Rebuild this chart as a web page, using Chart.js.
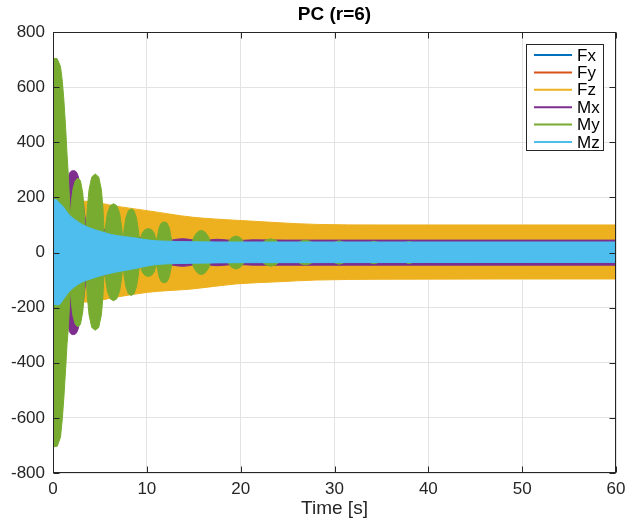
<!DOCTYPE html>
<html>
<head>
<meta charset="utf-8">
<script src="https://cdn.jsdelivr.net/npm/chart.js@4.4.1/dist/chart.umd.min.js"></script>
<style>
  html, body { margin: 0; padding: 0; background: #fff; }
  #wrap { width: 627px; height: 522px; }
</style>
</head>
<body>
<div id="wrap"><canvas id="pc_chart" width="627" height="522"></canvas></div>
<script>
// envelopes of the force / moment signals (upper and lower edge)
const fxT  = [0, 5, 15, 60];
const fxHi = [20, 15, 12, 12];
const fxLo = [-20, -15, -12, -12];

const fyT  = [0, 5, 15, 60];
const fyHi = [25, 18, 15, 15];
const fyLo = [-25, -18, -15, -15];

const fzT  = [0, 1.5, 3.5, 6.7, 10.2, 14.9, 19.5, 24.1, 28, 35, 60];
const fzHi = [120, 175, 186, 168, 151, 128, 117, 108, 102, 100, 100];
const fzLo = [-120, -175, -180, -162, -144, -132, -114, -106, -100, -97, -96];

const mxT  = [0, 1.0, 1.5, 1.65, 1.8, 2.2, 2.6, 2.9, 3.2, 3.45, 3.7, 4.6, 5.6, 6.3, 7.5, 9.5, 11.5, 13.8, 15.8, 17.5, 19.5, 21.3, 25, 60];
const mxHi = [100, 150, 200, 270, 290, 297, 285, 245, 185, 120, 80, 70, 85, 65, 45, 55, 40, 50, 42, 48, 43, 46, 45, 45];
const mxLo = [-100, -150, -200, -270, -290, -298, -285, -245, -185, -120, -80, -70, -85, -65, -45, -55, -40, -50, -42, -48, -43, -46, -46, -46];

const myT  = [0, 0.45, 0.8, 1.0, 1.17, 1.35, 1.5, 1.6, 1.75, 1.85,
              1.97, 2.13, 2.37, 2.65, 2.93, 3.17, 3.33, 3.5,
              3.65, 3.84, 4.13, 4.5, 4.87, 5.16, 5.33, 5.45,
              5.6, 5.8, 6.1, 6.45, 6.8, 7.1, 7.3, 7.45,
              7.59, 7.77, 8.04, 8.35, 8.62, 8.89, 9.07, 9.25,
              9.5, 9.8, 10.15, 10.5, 10.8, 11.0,
              11.15, 11.3, 11.55, 11.85, 12.15, 12.4, 12.55, 12.7,
              13.8, 14.8, 15.0, 15.25, 15.5, 15.8, 16.1, 16.35, 16.6, 16.8,
              18.6, 18.8, 19.1, 19.5, 19.9, 20.2, 20.4,
              22.3, 22.6, 23.2, 23.8, 24.1,
              26.0, 26.4, 26.9, 27.4, 27.8,
              29.7, 30.5, 31.3, 33.4, 34.2, 35.0, 37.2, 37.95, 38.7, 40, 60];
const myHi = [705, 703, 675, 620, 548, 450, 355, 300, 200, 130,
              190, 230, 260, 270, 260, 216, 150, 55,
              157, 228, 274, 285, 274, 228, 157, 55,
              97, 142, 170, 177, 170, 142, 97, 45,
              87, 126, 152, 158, 152, 126, 87, 40,
              70, 83, 87, 83, 70, 40,
              61, 89, 107, 111, 107, 89, 61, 35,
              40, 33, 55, 68, 77, 80, 77, 68, 55, 33,
              33, 45, 55, 60, 55, 45, 33,
              33, 44, 50, 44, 33,
              33, 41, 45, 41, 33,
              33, 43, 33, 33, 41, 33, 33, 40, 33, 30, 30];
const myLo = [-705, -703, -670, -600, -520, -420, -330, -290, -200, -130,
              -190, -230, -260, -270, -260, -216, -150, -55,
              -155, -226, -272, -282, -272, -226, -155, -55,
              -97, -140, -168, -175, -168, -140, -97, -45,
              -87, -125, -150, -156, -150, -125, -87, -40,
              -70, -83, -87, -83, -70, -40,
              -61, -88, -106, -110, -106, -88, -61, -35,
              -40, -33, -55, -68, -77, -80, -77, -68, -55, -33,
              -33, -45, -55, -60, -55, -45, -33,
              -33, -44, -50, -44, -33,
              -33, -41, -45, -41, -33,
              -33, -43, -33, -33, -41, -33, -33, -40, -33, -30, -30];

const mzT  = [0, 0.3, 0.64, 1.0, 1.7, 2.4, 3.1, 4.0, 4.9, 5.8, 6.7, 8.5, 10.2, 11.3, 15, 20, 60];
const mzHi = [192, 192, 181, 170, 138, 118, 102, 88, 78, 69, 62, 54, 45, 42, 39, 38, 38];
const mzLo = [-186, -190, -190, -175, -143, -122, -107, -96, -86, -78, -71, -60, -48, -43, -39, -37, -36];

const seriesNames  = ['Fx', 'Fy', 'Fz', 'Mx', 'My', 'Mz'];
const seriesColors = ['#0072BD', '#D95319', '#EDB120', '#7E2F8E', '#77AC30', '#4DBEEE'];
const seriesData = [
  [fxT, fxHi, fxLo], [fyT, fyHi, fyLo], [fzT, fzHi, fzLo],
  [mxT, mxHi, mxLo], [myT, myHi, myLo], [mzT, mzHi, mzLo]
];

const xTicks = [0, 10, 20, 30, 40, 50, 60];
const yTicks = [-800, -600, -400, -200, 0, 200, 400, 600, 800];

const FONT = '"Liberation Sans", Helvetica, Arial, sans-serif';
const INK = '#262626';

function pts(t, v) {
  return t.map((x, i) => ({ x: x, y: v[i] }));
}

const datasets = [];
seriesNames.forEach((name, i) => {
  const [t, hi, lo] = seriesData[i];
  const common = {
    borderColor: seriesColors[i],
    backgroundColor: seriesColors[i],
    borderWidth: 1,
    pointRadius: 0,
    pointHitRadius: 0,
    tension: 0,
    cubicInterpolationMode: name === 'My' ? 'default' : 'monotone',
    order: seriesNames.length - 1 - i   // later series drawn on top, like MATLAB
  };
  datasets.push(Object.assign({ label: name, data: pts(t, hi), fill: '+1' }, common));
  datasets.push(Object.assign({ label: name + '_lo', data: pts(t, lo), fill: false }, common));
});

// box, inward ticks, title and legend drawn the MATLAB way
const matlabAxes = {
  id: 'matlabAxes',
  afterDraw(chart) {
    const ctx = chart.ctx;
    const a = chart.chartArea;
    const xs = chart.scales.x, ys = chart.scales.y;
    const L = Math.round(a.left) + 0.5, R = Math.round(a.right) - 0.5;
    const T = Math.round(a.top) + 0.5, B = Math.round(a.bottom) - 0.5;
    ctx.save();
    ctx.strokeStyle = INK;
    ctx.lineWidth = 1;
    ctx.beginPath();
    xTicks.forEach(v => {
      const px = Math.round(xs.getPixelForValue(v)) + 0.5;
      ctx.moveTo(px, B); ctx.lineTo(px, B - 6);
      ctx.moveTo(px, T); ctx.lineTo(px, T + 6);
    });
    yTicks.forEach(v => {
      const py = Math.round(ys.getPixelForValue(v)) + 0.5;
      ctx.moveTo(L, py); ctx.lineTo(L + 6, py);
      ctx.moveTo(R, py); ctx.lineTo(R - 6, py);
    });
    ctx.stroke();
    ctx.strokeRect(L, T, R - L, B - T);

    // title
    ctx.fillStyle = '#000';
    ctx.font = 'bold 19px ' + FONT;
    ctx.textAlign = 'center';
    ctx.textBaseline = 'middle';
    ctx.fillText('PC (r=6)', (a.left + a.right) / 2, 15);

    // legend
    const bx = 526.5, by = 44.5, bw = 77, bh = 106;
    ctx.fillStyle = '#fff';
    ctx.fillRect(bx, by, bw, bh);
    ctx.strokeStyle = INK;
    ctx.strokeRect(bx, by, bw, bh);
    ctx.font = '17px ' + FONT;
    ctx.textAlign = 'left';
    seriesNames.forEach((name, i) => {
      const y = 55 + i * 17.4;
      ctx.strokeStyle = seriesColors[i];
      ctx.lineWidth = 2;
      ctx.beginPath();
      ctx.moveTo(534, y); ctx.lineTo(572, y);
      ctx.stroke();
      ctx.fillStyle = '#000';
      ctx.fillText(name, 577, y + 1);
    });
    ctx.restore();
  }
};

const ctx_pc = document.getElementById('pc_chart').getContext('2d');

const pcChart = new Chart(ctx_pc, {
  type: 'line',
  data: { datasets: datasets },
  plugins: [matlabAxes],
  options: {
    responsive: false,
    animation: false,
    events: [],
    layout: { padding: { top: 32, right: 11, left: 0, bottom: 0 } },
    plugins: {
      legend: { display: false },
      tooltip: { enabled: false },
      title: { display: false }
    },
    scales: {
      x: {
        type: 'linear',
        min: 0,
        max: 60,
        afterBuildTicks: s => { s.ticks = xTicks.map(v => ({ value: v })); },
        afterFit: s => { s.height = 49; s.paddingLeft = 0; s.paddingRight = 0; },
        grid: { color: '#e3e3e3', drawTicks: false },
        border: { display: false },
        ticks: { color: INK, padding: 6, maxRotation: 0, font: { family: FONT, size: 17 } },
        title: { display: true, text: 'Time [s]', color: INK, padding: { top: 0, bottom: 2 }, font: { family: FONT, size: 19 } }
      },
      y: {
        min: -800,
        max: 800,
        afterBuildTicks: s => { s.ticks = yTicks.map(v => ({ value: v })); },
        afterFit: s => { s.width = 53; s.paddingTop = 0; s.paddingBottom = 0; },
        grid: { color: '#e3e3e3', drawTicks: false },
        border: { display: false },
        ticks: { color: INK, padding: 8, font: { family: FONT, size: 17 } }
      }
    }
  }
});
</script>
</body>
</html>
